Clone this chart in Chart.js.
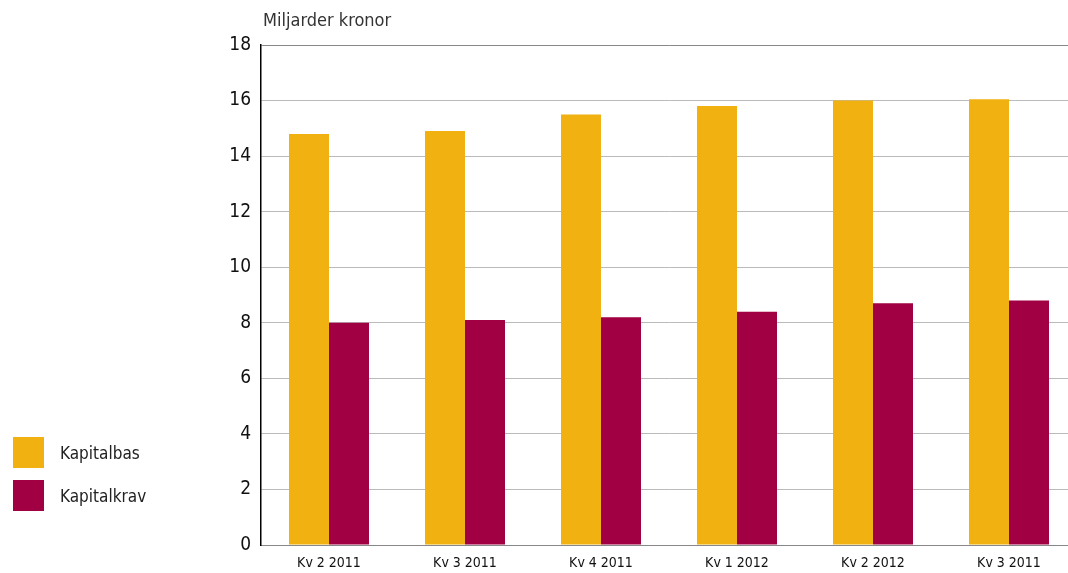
<!DOCTYPE html>
<html>
<head>
<meta charset="utf-8">
<script src="https://cdn.jsdelivr.net/npm/chart.js@4/dist/chart.umd.min.js"></script>
<style>
  html, body { margin: 0; padding: 0; background: #fff; overflow: hidden; }
  #wrap { position: relative; width: 1090px; height: 573px; }
  #legend { position: absolute; left: 13px; top: 437px; font-family: "DejaVu Sans Condensed", "DejaVu Sans", sans-serif; font-size: 17px; color: #222; }
  .item { display: flex; align-items: center; height: 31px; margin-bottom: 12px; }
  .box { width: 31px; height: 31px; margin-right: 16px; }
</style>
</head>
<body>
<div id="wrap">
  <canvas id="bar-chart" width="1090" height="573"></canvas>
  <div id="legend"></div>
</div>
<script>
const quarters = ['Kv 2 2011', 'Kv 3 2011', 'Kv 4 2011', 'Kv 1 2012', 'Kv 2 2012', 'Kv 3 2011'];
const kapitalbas = [14.8, 14.9, 15.5, 15.8, 16.0, 16.05];
const kapitalkrav = [8.0, 8.1, 8.2, 8.4, 8.7, 8.8];
const yTicks = [0, 2, 4, 6, 8, 10, 12, 14, 16, 18];

const fontFamily = '"DejaVu Sans Condensed", "DejaVu Sans", sans-serif';

const datasets = [
  { label: 'Kapitalbas', data: kapitalbas, backgroundColor: '#F0B111' },
  { label: 'Kapitalkrav', data: kapitalkrav, backgroundColor: '#A10042' },
];

// unit label above the value axis
const unitTitle = {
  id: 'unitTitle',
  afterDraw(chart) {
    const ctx = chart.ctx;
    ctx.save();
    ctx.font = '18px ' + fontFamily;
    ctx.fillStyle = '#333';
    ctx.textBaseline = 'middle';
    ctx.fillText('Miljarder kronor', chart.chartArea.left + 2, 21);
    ctx.restore();
  }
};

const ctx = document.getElementById('bar-chart').getContext('2d');
const chart = new Chart(ctx, {
  type: 'bar',
  data: {
    labels: quarters,
    datasets: datasets.map(d => Object.assign({
      barPercentage: 1.0,
      categoryPercentage: 80 / 136,
      borderWidth: 0,
    }, d)),
  },
  options: {
    responsive: false,
    animation: false,
    layout: { padding: { top: 45, right: 13, left: 0, bottom: 0 } },
    plugins: {
      legend: { display: false },
      tooltip: { enabled: false },
    },
    scales: {
      x: {
        grid: { display: false, drawTicks: false },
        border: { color: '#888', width: 1 },
        ticks: {
          color: '#111',
          padding: 10,
          font: { family: fontFamily, size: 14 },
        },
        afterFit(scale) { scale.height = 28; },
      },
      y: {
        min: 0,
        max: 18,
        afterBuildTicks(scale) { scale.ticks = yTicks.map(v => ({ value: v })); },
        grid: {
          drawTicks: false,
          color: c => (c.tick.value === 0 || c.tick.value === 18) ? '#888' : '#bbb',
          lineWidth: 1,
        },
        border: { color: '#000', width: 1.5 },
        ticks: {
          color: '#111',
          padding: 10,
          font: { family: fontFamily, size: 19 },
        },
        afterFit(scale) { scale.width = 261; },
      },
    },
  },
  plugins: [unitTitle],
});

const legend = document.getElementById('legend');
datasets.forEach(d => {
  const item = document.createElement('div');
  item.className = 'item';
  const box = document.createElement('div');
  box.className = 'box';
  box.style.background = d.backgroundColor;
  const text = document.createElement('span');
  text.innerText = d.label;
  item.appendChild(box);
  item.appendChild(text);
  legend.appendChild(item);
});
</script>
</body>
</html>
